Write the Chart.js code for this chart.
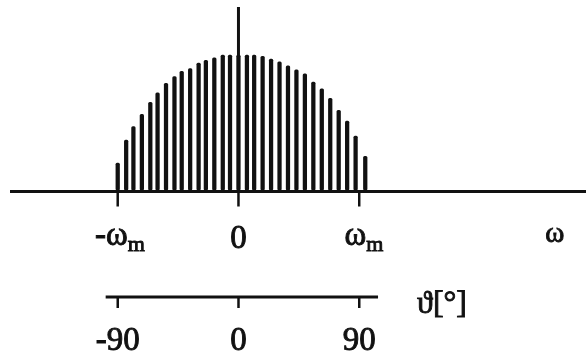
<!DOCTYPE html>
<html>
<head>
<meta charset="utf-8">
<script src="https://cdn.jsdelivr.net/npm/chart.js@4.4.0/dist/chart.umd.min.js"></script>
<style>
  html, body { margin: 0; padding: 0; background: #fff; }
  canvas { display: block; }
</style>
</head>
<body>
<canvas id="myChart" width="586" height="356"></canvas>
<script>
// spectral lines: frequency in units of omega_m, amplitude relative to peak
const freq = [
  -1.00, -0.93, -0.87, -0.80, -0.73, -0.67, -0.60, -0.53, -0.47, -0.40,
  -0.33, -0.27, -0.20, -0.13, -0.07, 0.00, 0.07, 0.13, 0.20, 0.27,
  0.34, 0.41, 0.48, 0.55, 0.62, 0.69, 0.76, 0.83, 0.90, 0.97, 1.05
];
const amp = [
  0.20, 0.37, 0.47, 0.56, 0.65, 0.72, 0.79, 0.84, 0.88, 0.90,
  0.94, 0.96, 0.98, 1.00, 1.00, 1.00, 1.00, 1.00, 0.99, 0.97,
  0.95, 0.92, 0.89, 0.86, 0.80, 0.75, 0.68, 0.59, 0.51, 0.40, 0.25
];

// omega axis ticks and labels (main + subscript)
const omegaTicks = [-1, 0, 1];
const omegaMain = ["-\u03C9", "0", "\u03C9"];
const omegaSub = ["m", "", "m"];
const omegaEnd = 2.62; // where the plain "omega" label sits

// angle axis below
const thetaTicks = [-90, 0, 90];
const thetaLabels = ["-90", "0", "90"];
const thetaRange = [-99, 104];

const ink = "#111";
const serif = '"Liberation Serif"';

// filled text with a thin outline so strokes read a bit heavier
function label(ctx, text, px, py, size) {
  ctx.font = size + "px " + serif;
  ctx.lineWidth = 0.9;
  ctx.fillText(text, px, py);
  ctx.strokeText(text, px, py);
}

const axesPlugin = {
  id: "axesPlugin",
  afterDatasetsDraw(chart) {
    const ctx = chart.ctx;
    const x = chart.scales.x;
    const y = chart.scales.y;
    const th = chart.scales.theta;
    const area = chart.chartArea;
    const y0 = y.getPixelForValue(0) + 1.5;

    ctx.save();
    ctx.strokeStyle = ink;
    ctx.fillStyle = ink;

    // horizontal omega axis
    ctx.lineWidth = 3;
    ctx.beginPath();
    ctx.moveTo(area.left, y0);
    ctx.lineTo(area.right, y0);
    ctx.stroke();

    // vertical axis at omega = 0
    ctx.lineWidth = 3;
    ctx.beginPath();
    ctx.moveTo(x.getPixelForValue(0), y0);
    ctx.lineTo(x.getPixelForValue(0), y.getPixelForValue(y.max));
    ctx.stroke();

    // omega ticks
    ctx.lineWidth = 2.5;
    omegaTicks.forEach((t) => {
      const px = x.getPixelForValue(t);
      ctx.beginPath();
      ctx.moveTo(px, y0);
      ctx.lineTo(px, y0 + 15);
      ctx.stroke();
    });

    // omega labels
    ctx.textBaseline = "alphabetic";
    omegaTicks.forEach((t, i) => {
      const px = x.getPixelForValue(t);
      if (omegaSub[i] === "") {
        ctx.textAlign = "center";
        label(ctx, omegaMain[i], px, 248, 33);
        return;
      }
      ctx.font = "33px " + serif;
      const w = ctx.measureText(omegaMain[i]).width;
      const start = px - w + (t < 0 ? 10 : 7);
      ctx.textAlign = "left";
      label(ctx, omegaMain[i], start, 245, 33);
      label(ctx, omegaSub[i], start + w, 251, 22);
    });
    ctx.textAlign = "center";
    label(ctx, "\u03C9", x.getPixelForValue(omegaEnd), 242, 29);

    // angle axis
    const ty = 297;
    ctx.lineWidth = 3;
    ctx.beginPath();
    ctx.moveTo(th.getPixelForValue(thetaRange[0]), ty);
    ctx.lineTo(th.getPixelForValue(thetaRange[1]), ty);
    ctx.stroke();
    thetaTicks.forEach((t, i) => {
      const px = th.getPixelForValue(t);
      ctx.lineWidth = 2.5;
      ctx.beginPath();
      ctx.moveTo(px, ty);
      ctx.lineTo(px, ty + 11);
      ctx.stroke();
      ctx.textAlign = "center";
      label(ctx, thetaLabels[i], px, 350, 33);
    });
    ctx.textAlign = "left";
    label(ctx, "\u03D1[\u00B0]", th.getPixelForValue(thetaRange[1]) + 39, 313, 32);

    ctx.restore();
  },
};

new Chart("myChart", {
  type: "bar",
  data: {
    datasets: [
      {
        data: freq.map((f, i) => ({ x: f, y: amp[i] })),
        backgroundColor: ink,
        barThickness: 3.6,
        borderRadius: 1.5,
        borderSkipped: false,
      },
    ],
  },
  options: {
    responsive: false,
    animation: false,
    layout: { padding: { left: 10, right: 0, top: 7, bottom: 166 } },
    plugins: { legend: { display: false }, tooltip: { enabled: false } },
    scales: {
      x: { type: "linear", min: -1.892, max: 2.878, offset: false, display: false },
      theta: { type: "linear", axis: "x", min: -170.3, max: 259.0, offset: false, display: false },
      y: { min: 0, max: 1.356, display: false },
    },
  },
  plugins: [axesPlugin],
});
</script>
</body>
</html>
